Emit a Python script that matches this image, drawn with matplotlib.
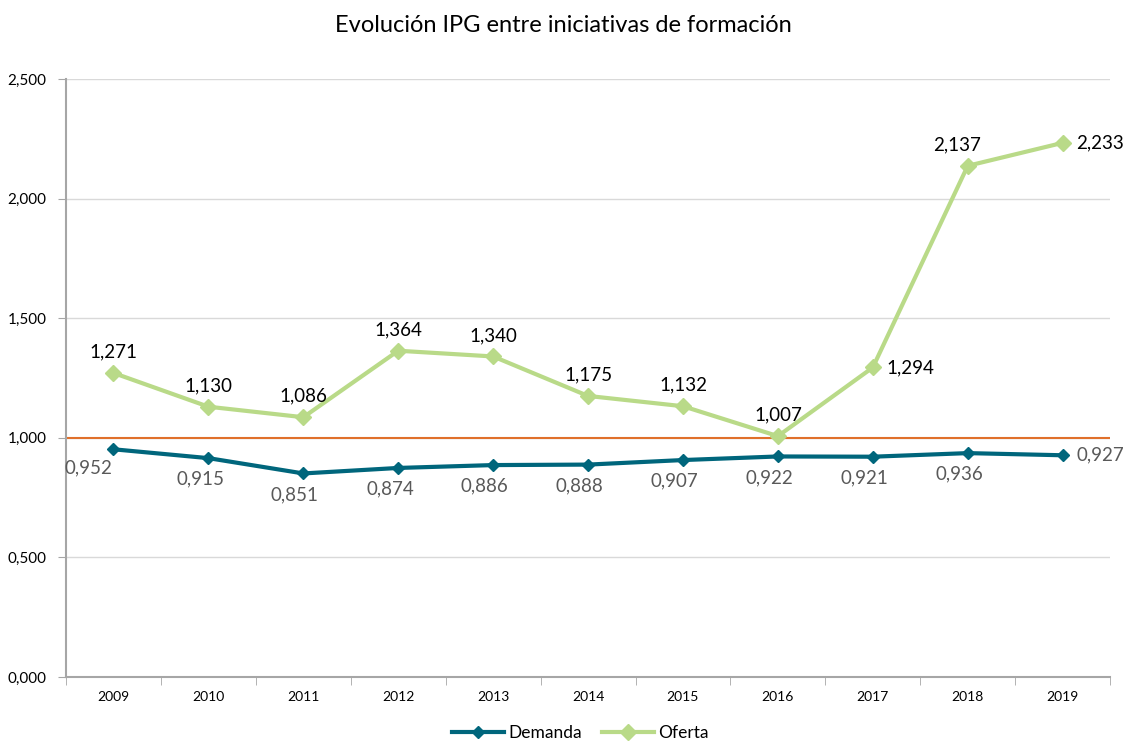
import matplotlib
matplotlib.use("Agg")
import matplotlib.pyplot as plt
from matplotlib.ticker import FuncFormatter

plt.rcParams["font.family"] = ["Lato", "DejaVu Sans"]

years = ["2009", "2010", "2011", "2012", "2013", "2014", "2015", "2016", "2017", "2018", "2019"]
demanda = [0.952, 0.915, 0.851, 0.874, 0.886, 0.888, 0.907, 0.922, 0.921, 0.936, 0.927]
oferta = [1.271, 1.130, 1.086, 1.364, 1.340, 1.175, 1.132, 1.007, 1.294, 2.137, 2.233]
referencia = 1.0

C_DEM = "#00667C"
C_OFE = "#B9DA88"
C_REF = "#E0702A"


def fmt(v):
    return f"{v:.3f}".replace(".", ",")


fig = plt.figure(figsize=(11.27, 7.43), dpi=100)
ax = fig.add_axes([0.0586, 0.0888, 0.9264, 0.8049])

x = list(range(len(years)))
ax.axhline(referencia, color=C_REF, lw=1.5, zorder=2)
ax.plot(x, demanda, color=C_DEM, lw=3, marker="D", ms=6, label="Demanda", zorder=3)
ax.plot(x, oferta, color=C_OFE, lw=3, marker="D", ms=8, label="Oferta", zorder=3)

# etiquetas de datos
for i, v in enumerate(oferta):
    if i in (8, 10):
        off, ha, va = (10, 0), "left", "center"
    elif i == 9:
        off, ha, va = (-8, 9), "center", "bottom"
    else:
        off, ha, va = (0, 9), "center", "bottom"
    ax.annotate(fmt(v), (i, v), xytext=off, textcoords="offset points",
                ha=ha, va=va, fontsize=13.5, color="black")
for i, v in enumerate(demanda):
    if i == 10:
        off, ha, va = (10, 0), "left", "center"
    elif i == 0:
        off, ha, va = (-18, -7), "center", "top"
    else:
        off, ha, va = (-6, -9), "center", "top"
    ax.annotate(fmt(v), (i, v), xytext=off, textcoords="offset points",
                ha=ha, va=va, fontsize=13.5, color="#595959")

ax.set_xlim(-0.5, len(years) - 0.5)
ax.set_ylim(0, 2.5)
ax.set_yticks([0, 0.5, 1.0, 1.5, 2.0, 2.5])
ax.yaxis.set_major_formatter(FuncFormatter(lambda v, p: fmt(v)))
ax.set_xticks(x)
ax.set_xticklabels(years)
ax.set_xticks([i - 0.5 for i in range(len(years) + 1)], minor=True)
ax.tick_params(axis="x", which="major", length=0, pad=10, labelsize=10)
ax.tick_params(axis="x", which="minor", length=6, color="#A6A6A6")
ax.tick_params(axis="y", length=6, color="#A6A6A6", pad=8, labelsize=11)
ax.grid(axis="y", color="#D9D9D9", lw=1)
ax.set_axisbelow(True)
for s in ("top", "right"):
    ax.spines[s].set_visible(False)
for s in ("left", "bottom"):
    ax.spines[s].set_color("#A6A6A6")
    ax.spines[s].set_linewidth(1.5)

fig.suptitle("Evolución IPG entre iniciativas de formación", y=0.98, fontsize=17)
fig.legend(loc="lower center", bbox_to_anchor=(0.515, -0.018), ncol=2, frameon=False,
           fontsize=12.5, handlelength=3, columnspacing=1.2, handletextpad=0.2)

fig.savefig("out.png", dpi=100)
